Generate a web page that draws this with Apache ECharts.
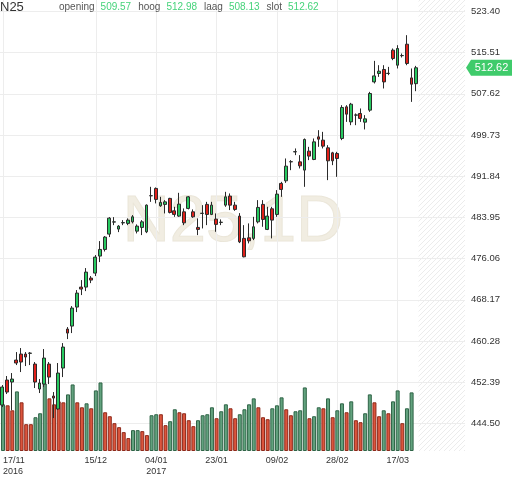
<!DOCTYPE html>
<html>
<head>
<meta charset="utf-8">
<script src="https://cdn.jsdelivr.net/npm/echarts@6.0.0/dist/echarts.min.js"></script>
<style>
  html, body { margin: 0; padding: 0; background: #fff; }
  #main { width: 512px; height: 477px; }
</style>
</head>
<body>
<div id="main"></div>
<script>
  // N25 dagkoersen, 17/11/2016 - 23/03/2017
  var dates = [
    '17/11','18/11','21/11','22/11','23/11','24/11','25/11','28/11','29/11','30/11',
    '01/12','02/12','05/12','06/12','07/12','08/12','09/12','12/12','13/12','14/12',
    '15/12','16/12','19/12','20/12','21/12','22/12','23/12','27/12','28/12','29/12','30/12',
    '02/01','03/01','04/01','05/01','06/01','09/01','10/01','11/01','12/01','13/01',
    '16/01','17/01','18/01','19/01','20/01','23/01','24/01','25/01','26/01','27/01','30/01','31/01',
    '01/02','02/02','03/02','06/02','07/02','08/02','09/02','10/02','13/02','14/02',
    '15/02','16/02','17/02','20/02','21/02','22/02','23/02','24/02','27/02','28/02',
    '01/03','02/03','03/03','06/03','07/03','08/03','09/03','10/03','13/03','14/03',
    '15/03','16/03','17/03','20/03','21/03','22/03','23/03'
  ];
  var opens = [
    448.00,452.79,452.41,456.62,457.77,457.77,457.90,455.85,451.07,452.02,
    455.85,449.73,447.24,455.09,462.56,463.13,466.77,470.60,470.60,472.32,
    473.28,476.54,477.81,480.75,483.05,481.71,482.90,482.80,483.10,481.32,
    482.03,481.19,488.08,489.50,486.17,486.44,487.59,485.21,484.20,485.02,
    485.67,485.02,482.03,484.71,486.44,484.52,483.62,482.99,486.30,488.03,
    486.30,484.20,479.93,480.04,479.93,483.10,486.44,481.65,485.60,484.52,
    490.46,490.96,494.59,496.50,494.59,493.01,496.64,495.05,499.38,498.75,
    497.28,496.32,496.20,499.07,505.13,502.25,503.54,503.86,502.20,504.50,
    509.91,511.52,512.29,511.52,515.99,513.11,514.93,517.13,510.68,509.57
  ];
  var closes = [
    451.45,450.49,452.98,456.05,456.24,457.20,457.96,452.41,452.22,457.00,
    453.36,449.34,454.13,459.11,461.79,466.58,469.45,470.22,473.47,471.94,
    476.34,477.81,480.18,483.81,483.10,482.28,482.95,483.43,484.06,482.28,
    483.10,486.30,488.12,487.39,486.82,486.93,484.90,484.52,486.49,482.91,
    487.89,484.06,481.65,484.75,484.52,486.30,482.61,483.03,487.89,486.30,
    485.48,479.27,476.40,479.47,482.15,485.86,483.56,484.20,483.43,488.41,
    489.31,493.77,494.63,496.55,493.83,498.88,495.69,498.42,498.94,497.60,
    494.79,494.79,495.24,505.01,503.73,505.64,503.58,502.91,502.83,507.69,
    511.06,511.96,509.91,511.56,514.40,516.31,514.97,513.44,509.47,512.62
  ];
  var lows = [
    447.62,450.11,447.05,455.66,454.32,455.47,455.66,451.26,450.30,451.45,
    452.02,445.51,447.05,453.36,460.64,461.79,465.81,469.07,469.83,471.36,
    472.71,475.39,477.42,480.18,482.47,481.13,482.47,482.47,482.80,480.88,
    480.56,480.94,486.93,486.63,485.98,484.71,484.71,484.06,484.06,482.47,
    485.48,483.87,480.56,481.84,482.47,484.39,481.19,482.47,485.98,485.35,
    485.21,479.03,476.30,478.97,479.60,482.80,482.15,481.52,479.93,484.06,
    487.89,490.57,493.00,495.88,493.33,489.81,494.92,494.92,497.47,497.16,
    491.09,493.96,491.72,498.75,502.25,501.62,501.62,502.25,500.80,504.17,
    509.61,510.87,508.65,511.20,514.07,512.48,514.59,513.11,506.08,508.13
  ];
  var highs = [
    451.83,453.56,454.13,458.15,458.92,458.15,458.15,456.24,452.98,458.73,
    456.24,450.49,456.05,459.87,462.94,466.96,470.03,471.94,474.24,472.71,
    476.73,479.41,480.37,484.00,484.00,482.47,483.43,483.76,484.39,482.61,
    483.43,486.44,489.81,489.69,487.89,487.26,487.70,485.98,488.66,485.67,
    488.03,485.48,483.76,486.30,486.93,486.93,484.71,483.56,488.85,488.54,
    486.93,484.77,482.47,482.80,484.06,487.26,487.26,485.98,485.98,489.18,
    490.76,495.24,494.92,497.16,495.88,499.07,497.47,499.07,500.66,500.34,
    497.79,496.51,496.51,505.45,505.45,505.89,503.86,504.82,503.54,508.00,
    513.94,513.11,513.11,512.79,516.31,516.94,515.35,518.86,512.48,512.98
  ];
  // volume (x1000), the running day has no volume yet
  var volumes = [
    470,460,410,600,490,270,270,340,380,680,
    530,470,500,490,570,670,490,440,480,430,
    610,690,390,350,280,240,190,130,210,210,
    200,160,360,370,370,260,300,420,390,380,
    310,250,310,360,370,440,330,400,470,430,
    330,370,420,470,530,440,340,320,430,460,
    540,420,360,400,410,640,330,350,440,430,
    530,340,410,480,390,500,310,290,380,570,
    490,350,410,380,500,610,280,430,590,null
  ];
  // 1 = groene volumebalk, 0 = rode
  var volUp = [
    1,0,0,1,0,0,0,1,1,1,
    0,0,0,0,1,1,0,0,1,0,
    1,1,0,0,0,0,0,0,1,1,
    0,0,1,1,0,0,1,1,0,0,
    0,0,1,1,1,1,0,1,1,0,
    0,1,1,1,1,0,0,0,1,1,
    1,0,0,1,1,1,0,1,1,0,
    1,0,1,1,0,1,0,0,1,1,
    0,0,1,0,1,1,0,1,1,1
  ];
  var labelDates = ['17/11','15/12','04/01','23/01','09/02','28/02','17/03'];
  var yearOf = { '17/11': '2016', '04/01': '2017' };
  var tickStart = 444.50, tickStep = 7.89;
  var futureSlots = 10;

  var cats = dates.concat(new Array(futureSlots).fill(''));
  var lastIdx = dates.length - 1;
  var last = { o: opens[lastIdx], h: highs[lastIdx], l: lows[lastIdx], c: closes[lastIdx] };

  var candleData = dates.map(function (d, i) {
    return [opens[i], closes[i], lows[i], highs[i]];
  });
  var volData = volumes.map(function (v, i) {
    return {
      value: v,
      itemStyle: volUp[i]
        ? { color: '#62a27e', borderColor: '#2f6447' }
        : { color: '#dc553d', borderColor: '#8e2a1b' }
    };
  });

  var font = 'Arial, "Liberation Sans", sans-serif';
  var volMax = 4540;
  // ticks run from yMin; the top of the plot is just above the 523.40 line
  var yMin = tickStart - tickStep, yMax = 525.60;

  var chart = echarts.init(document.getElementById('main'));
  var option = {
    animation: false,
    backgroundColor: '#fff',
    title: [
      {
        text: 'N25', left: 0, top: 1, padding: 0,
        textStyle: { fontFamily: font, fontSize: 13, fontWeight: 'normal', color: '#333' }
      },
      {
        text: '{l|opening}{v|' + last.o.toFixed(2) + '}{l|hoog}{v|' + last.h.toFixed(2) +
              '}{l|laag}{v|' + last.l.toFixed(2) + '}{l|slot}{v|' + last.c.toFixed(2) + '}',
        left: 59, top: 2, padding: 0,
        textStyle: {
          fontWeight: 'normal',
          rich: {
            l: { fontFamily: font, fontSize: 10, fontWeight: 'normal', color: '#555', padding: [0, 6, 0, 0] },
            v: { fontFamily: font, fontSize: 10, fontWeight: 'normal', color: '#45d37a', padding: [0, 7, 0, 0] }
          }
        }
      }
    ],
    grid: [
      { left: -1, right: 47, top: 0, bottom: 12.5 },
      { left: -1, right: 47, top: 0, bottom: 23 }
    ],
    xAxis: [
      { type: 'category', gridIndex: 0, data: cats, show: false },
      {
        type: 'category', gridIndex: 1, data: cats,
        axisLine: { show: false }, axisTick: { show: false },
        splitLine: { show: false },
        axisLabel: {
          interval: function (i, v) { return labelDates.indexOf(v) >= 0; },
          formatter: function (v) { return yearOf[v] ? v + '\n' + yearOf[v] : v; },
          alignMinLabel: 'left',
          fontFamily: font, fontSize: 9, color: '#333', lineHeight: 11, margin: 4
        }
      }
    ],
    yAxis: [
      {
        type: 'value', gridIndex: 0, position: 'right', scale: true,
        min: yMin, max: yMax, interval: tickStep,
        axisLine: { show: false }, axisTick: { show: false },
        axisLabel: {
          showMinLabel: false, showMaxLabel: false,
          formatter: function (v) { return v.toFixed(2); },
          fontFamily: font, fontSize: 9.5, color: '#333', margin: 6
        },
        splitLine: { showMinLine: false, showMaxLine: false, lineStyle: { color: '#ededed' } }
      },
      { type: 'value', gridIndex: 1, show: false, min: 0, max: volMax }
    ],
    series: [
      {
        name: 'volume', type: 'bar', xAxisIndex: 1, yAxisIndex: 1,
        data: volData, barWidth: '86%', z: 1,
        itemStyle: { borderWidth: 1 },
        markLine: {
          silent: true, symbol: 'none', z: 0,
          label: { show: false },
          lineStyle: { color: '#ededed', type: 'solid', width: 1 },
          data: labelDates.map(function (d) { return { xAxis: dates.indexOf(d) }; })
        }
      },
      {
        name: 'N25', type: 'candlestick', xAxisIndex: 0, yAxisIndex: 0,
        data: candleData, barWidth: '70%', z: 3,
        itemStyle: {
          color: '#27c960', color0: '#e0201a',
          borderColor: '#2b2b2b', borderColor0: '#2b2b2b', borderWidth: 1
        }
      }
    ]
  };
  chart.setOption(option);

  // arcering na de laatste dag, watermerk en koerslabel
  var pc = document.createElement('canvas');
  pc.width = 5; pc.height = 5;
  var pctx = pc.getContext('2d');
  pctx.strokeStyle = '#ececec';
  pctx.lineWidth = 1;
  pctx.beginPath();
  pctx.moveTo(0, 5); pctx.lineTo(5, 0);
  pctx.stroke();

  var xAt = function (i) { return chart.convertToPixel({ xAxisIndex: 1 }, i); };
  var bw = xAt(1) - xAt(0);
  var hx0 = xAt(dates.length) - bw / 2;
  var hx1 = xAt(cats.length - 1) + bw / 2;
  var hy0 = chart.convertToPixel({ yAxisIndex: 1 }, volMax);
  var hy1 = chart.convertToPixel({ yAxisIndex: 1 }, 0);
  var py = chart.convertToPixel({ yAxisIndex: 0 }, last.c);
  var tipX = hx1 + 1;

  chart.setOption({
    graphic: [
      {
        type: 'rect', z: -1, silent: true,
        shape: { x: hx0, y: hy0, width: hx1 - hx0, height: hy1 - hy0 },
        style: { fill: { image: pc, repeat: 'repeat' } }
      },
      {
        type: 'text', z: -1, silent: true, x: 233, y: 223,
        style: {
          text: 'N25,1D', fontFamily: font, fontSize: 65,
          fill: 'rgba(236,231,216,0.75)', stroke: 'rgba(214,206,182,0.5)', lineWidth: 1,
          align: 'center', verticalAlign: 'middle'
        }
      },
      {
        type: 'polygon', silent: true, z: 10,
        shape: { points: [[tipX, py], [tipX + 5, py - 8], [512, py - 8], [512, py + 8], [tipX + 5, py + 8]] },
        style: { fill: '#3fcb6b' }
      },
      {
        type: 'text', silent: true, z: 11, x: (tipX + 5 + 512) / 2, y: py,
        style: {
          text: last.c.toFixed(2), fontFamily: font, fontSize: 11, fill: '#fff',
          align: 'center', verticalAlign: 'middle'
        }
      }
    ]
  });
</script>
</body>
</html>
